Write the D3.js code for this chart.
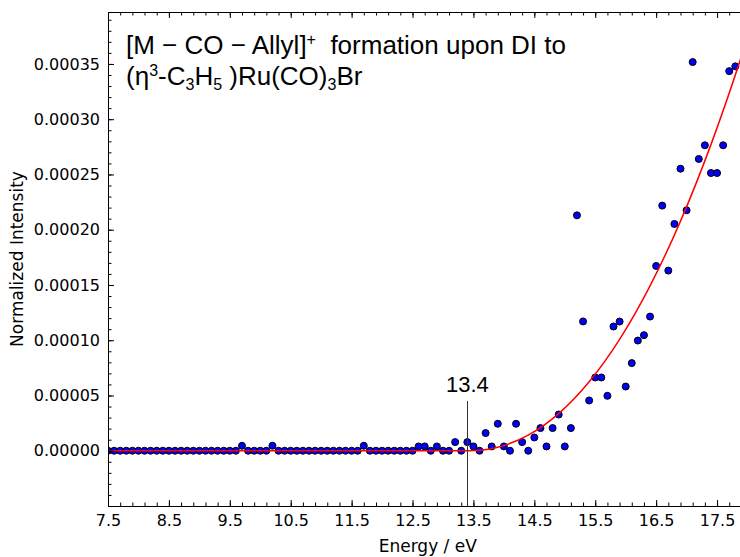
<!DOCTYPE html>
<html><head><meta charset="utf-8">
<script src="https://cdn.jsdelivr.net/npm/d3@7"></script>
<style>
html,body{margin:0;padding:0;background:#fff;}
svg{display:block;}
</style></head>
<body>
<script>
// ---------- data ----------
const energy = [
  7.5, 7.6, 7.7, 7.8, 7.9, 8.0, 8.1, 8.2, 8.3, 8.4, 8.5, 8.6, 8.7, 8.8, 8.9, 9.0, 9.1, 9.2, 9.3, 9.4, 9.5, 9.6,
  9.7, 9.8, 9.9, 10.0, 10.1, 10.2, 10.3, 10.4, 10.5, 10.6, 10.7, 10.8, 10.9, 11.0, 11.1, 11.2, 11.3, 11.4, 11.5, 11.6,
  11.7, 11.8, 11.9, 12.0, 12.1, 12.2, 12.3, 12.4, 12.5, 12.6, 12.7, 12.8, 12.9, 13.0, 13.1, 13.2, 13.3, 13.4, 13.5,
  13.6, 13.7, 13.8, 13.9, 14.0, 14.1, 14.2, 14.3, 14.4, 14.5, 14.6, 14.7, 14.8, 14.9, 15.0, 15.1, 15.2, 15.3, 15.4,
  15.5, 15.6, 15.7, 15.8, 15.9, 16.0, 16.1, 16.2, 16.3, 16.4, 16.5, 16.6, 16.7, 16.8, 16.9, 17.0, 17.1, 17.2, 17.3,
  17.4, 17.5, 17.6, 17.7, 17.8
];
const intensity = [
  0, 0, 0, 0, 0, 0, 0, 0, 0, 0, 0, 0, 0, 0, 0, 0, 0, 0, 0, 0, 0, 0,
  4.5e-6, 0, 0, 0, 0, 4.5e-6, 0, 0, 0, 0, 0, 0, 0, 0, 0, 0, 0, 0, 0, 0,
  4.5e-6, 0, 0, 0, 0, 0, 0, 0, 0, 3.9e-6, 3.9e-6, 0, 3.9e-6, 0, 0, 7.8e-6, 0, 7.8e-6, 3.9e-6,
  0, 16e-6, 3.9e-6, 24.4e-6, 3.9e-6, 0, 24.4e-6, 7.8e-6, 0, 12e-6, 20.5e-6, 3.9e-6, 20.5e-6, 32.8e-6, 3.9e-6, 20.5e-6, 213e-6, 117e-6, 45.5e-6,
  66.3e-6, 66.3e-6, 49.7e-6, 112.4e-6, 116.9e-6, 58.1e-6, 79.3e-6, 99.7e-6, 104.6e-6, 121.4e-6, 167.2e-6, 221.8e-6, 163e-6, 205.2e-6, 255.2e-6, 217.6e-6, 351.7e-6, 264e-6, 276.4e-6,
  251.3e-6, 251.3e-6, 276.4e-6, 343.5e-6, 347.8e-6
];
// fitted threshold curve
const fitEnergy    = [7.5, 13.4, 13.65, 13.9, 14.4, 14.9, 15.4, 15.9, 16.4, 16.9, 17.4, 17.9, 18.0];
const fitIntensity = [0, 0, 0.7e-6, 3.2e-6, 14.1e-6, 33.6e-6, 62.4e-6, 100.8e-6, 149.2e-6, 207.8e-6, 277e-6, 356.8e-6, 374e-6];

const xTickValues = [7.5, 8.5, 9.5, 10.5, 11.5, 12.5, 13.5, 14.5, 15.5, 16.5, 17.5];
const xTickLabels = ["7.5", "8.5", "9.5", "10.5", "11.5", "12.5", "13.5", "14.5", "15.5", "16.5", "17.5"];
const yTickValues = [0, 0.00005, 0.0001, 0.00015, 0.0002, 0.00025, 0.0003, 0.00035];
const yTickLabels = ["0.00000", "0.00005", "0.00010", "0.00015", "0.00020", "0.00025", "0.00030", "0.00035"];
const threshold = 13.4;
const thresholdLabel = "13.4";
const xLabel = "Energy / eV";
const yLabel = "Normalized Intensity";

// ---------- layout ----------
const W = 740, H = 557;
const L = 108, T = 12, B = 506;
const svg = d3.select("body").append("svg").attr("width", W).attr("height", H);

const x = d3.scaleLinear().domain([7.5, 18]).range([L, 747.5]);
const y = d3.scaleLinear().domain([-0.00005, 0.000397]).range([B, T]);

const tickFont = "'DejaVu Sans', sans-serif";
const textFont = "'Liberation Sans', Arial, sans-serif";

// clip
svg.append("clipPath").attr("id", "plotclip")
  .append("rect").attr("x", L + 0.5).attr("y", T).attr("width", W - L).attr("height", B - T + 0.5);

const plot = svg.append("g").attr("clip-path", "url(#plotclip)");

// points
plot.append("g").selectAll("circle")
  .data(energy.map((e, i) => [e, intensity[i]]))
  .join("circle")
  .attr("cx", d => x(d[0]))
  .attr("cy", d => y(d[1]))
  .attr("r", 3.5)
  .attr("fill", "#0000ff")
  .attr("stroke", "#000")
  .attr("stroke-width", 1);

// fit curve
const line = d3.line().x(d => x(d[0])).y(d => y(d[1])).curve(d3.curveMonotoneX);
plot.append("path")
  .datum(fitEnergy.map((e, i) => [e, fitIntensity[i]]))
  .attr("d", line)
  .attr("fill", "none")
  .attr("stroke", "#ff0000")
  .attr("stroke-width", 1.5);

// threshold marker
svg.append("line")
  .attr("x1", Math.round(x(threshold)) + 0.5).attr("x2", Math.round(x(threshold)) + 0.5)
  .attr("y1", 401).attr("y2", B)
  .attr("stroke", "#333").attr("stroke-width", 1);
svg.append("text")
  .attr("x", x(threshold)).attr("y", 392)
  .attr("text-anchor", "middle")
  .attr("font-family", textFont).attr("font-size", 22)
  .attr("fill", "#000")
  .text(thresholdLabel);

// axes
function styleAxis(g) {
  g.selectAll("path.domain").attr("stroke", "#000");
  g.selectAll(".tick line").attr("stroke", "#000");
  g.selectAll(".tick text").attr("fill", "#000").attr("font-family", tickFont).attr("font-size", 16);
}
const xMinor = d3.range(7.5, 18.05, 0.2).map(v => +v.toFixed(2));
const yMinor = d3.range(-0.00005, 0.00040, 0.00001).map(v => +v.toFixed(6));

const xAxis = d3.axisBottom(x).tickValues(xTickValues)
  .tickFormat((d, i) => xTickLabels[i]).tickSizeInner(-6).tickSizeOuter(0).tickPadding(9);
svg.append("g").attr("transform", `translate(0,${B})`)
  .call(g => g.append("g").call(d3.axisBottom(x).tickValues(xMinor).tickFormat("").tickSizeInner(-3.5).tickSizeOuter(0)))
  .call(g => g.append("g").call(xAxis))
  .call(styleAxis);

svg.append("g").attr("transform", `translate(0,${T})`)
  .call(g => g.append("g").call(d3.axisTop(x).tickValues(xMinor).tickFormat("").tickSizeInner(-3.5).tickSizeOuter(0)))
  .call(g => g.append("g").call(d3.axisTop(x).tickValues(xTickValues).tickFormat("").tickSizeInner(-6).tickSizeOuter(0)))
  .call(styleAxis);

const yAxis = d3.axisLeft(y).tickValues(yTickValues)
  .tickFormat((d, i) => yTickLabels[i]).tickSizeInner(-6).tickSizeOuter(0).tickPadding(8);
svg.append("g").attr("transform", `translate(${L},0)`)
  .call(g => g.append("g").call(d3.axisLeft(y).tickValues(yMinor).tickFormat("").tickSizeInner(-3.5).tickSizeOuter(0)))
  .call(g => g.append("g").call(yAxis))
  .call(styleAxis);

// axis labels
svg.append("text")
  .attr("x", (L + 747.5) / 2).attr("y", 552)
  .attr("text-anchor", "middle")
  .attr("font-family", tickFont).attr("font-size", 17).attr("fill", "#000")
  .text(xLabel);
svg.append("text")
  .attr("transform", `translate(22.5,${(T + B) / 2}) rotate(-90)`)
  .attr("text-anchor", "middle")
  .attr("font-family", tickFont).attr("font-size", 17).attr("fill", "#000")
  .text(yLabel);

// title
const title = svg.append("text")
  .attr("font-family", textFont).attr("font-size", 26).attr("fill", "#000");
const l1 = title.append("tspan").attr("x", 126).attr("y", 54);
l1.append("tspan").text("[M \u2212 CO \u2212 Allyl]");
l1.append("tspan").attr("font-size", 16).attr("dy", -9).text("+");
l1.append("tspan").attr("dy", 9).text("\u00a0\u00a0formation upon DI to");

const l2 = title.append("tspan").attr("x", 126).attr("y", 85);
l2.append("tspan").text("(\u03b7");
l2.append("tspan").attr("font-size", 16).attr("dy", -9).text("3");
l2.append("tspan").attr("dy", 9).text("-C");
l2.append("tspan").attr("font-size", 16).attr("dy", 5).text("3");
l2.append("tspan").attr("dy", -5).text("H");
l2.append("tspan").attr("font-size", 16).attr("dy", 5).text("5");
l2.append("tspan").attr("dy", -5).text("\u00a0)Ru(CO)");
l2.append("tspan").attr("font-size", 16).attr("dy", 5).text("3");
l2.append("tspan").attr("dy", -5).text("Br");
</script>
</body></html>
